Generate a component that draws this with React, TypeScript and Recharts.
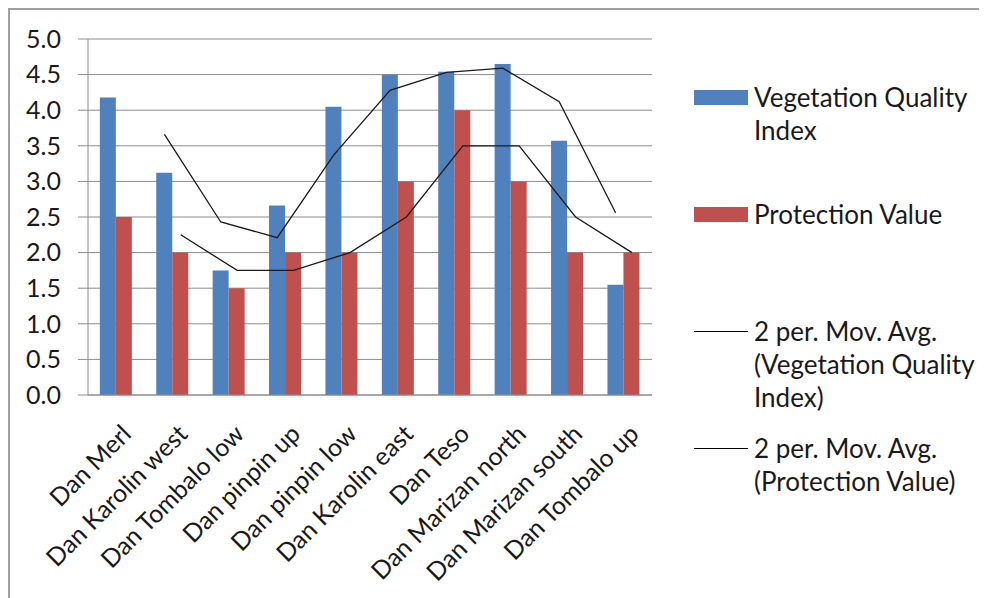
import React from 'react';
import { ComposedChart, Bar, Line, XAxis, YAxis, CartesianGrid, Legend } from 'recharts';

const categories = [
  'Dan Merl',
  'Dan Karolin west',
  'Dan Tombalo low',
  'Dan pinpin up',
  'Dan pinpin low',
  'Dan Karolin east',
  'Dan Teso',
  'Dan Marizan north',
  'Dan Marizan south',
  'Dan Tombalo up',
];
const vegetationQuality = [4.18, 3.12, 1.75, 2.66, 4.05, 4.5, 4.54, 4.65, 3.57, 1.55];
const protectionValue = [2.5, 2, 1.5, 2, 2, 3, 4, 3, 2, 2];
const vqiMovingAvg = [null, 3.66, 2.43, 2.21, 3.37, 4.28, 4.53, 4.59, 4.12, 2.56];
const pvMovingAvg = [null, 2.25, 1.75, 1.75, 2.0, 2.5, 3.5, 3.5, 2.5, 2.0];
const yTicks = [0, 0.5, 1, 1.5, 2, 2.5, 3, 3.5, 4, 4.5, 5];
const boundaryTicks = [0, 1, 2, 3, 4, 5, 6, 7, 8, 9, 10];

const seriesNames = {
  vqi: 'Vegetation Quality Index',
  pv: 'Protection Value',
  vqiMa: '2 per. Mov. Avg. (Vegetation Quality Index)',
  pvMa: '2 per. Mov. Avg. (Protection Value)',
};

const legendEntries = [
  { lines: ['Vegetation Quality', 'Index'], color: '#4F81BD', kind: 'rect' },
  { lines: ['Protection Value'], color: '#C0504D', kind: 'rect' },
  { lines: ['2 per. Mov. Avg.', '(Vegetation Quality', 'Index)'], color: '#000000', kind: 'line' },
  { lines: ['2 per. Mov. Avg.', '(Protection Value)'], color: '#000000', kind: 'line' },
];

const BAR_SHIFT = 0.145;

const data = categories.map((name, i) => ({
  name,
  vqi: vegetationQuality[i],
  pv: protectionValue[i],
  vqiMa: vqiMovingAvg[i],
  pvMa: pvMovingAvg[i],
  xv: i + 0.5 - BAR_SHIFT,
  xp: i + 0.5 + BAR_SHIFT,
}));

const FONT = 'Lato, "Open Sans", sans-serif';
const TEXT = '#1a1a1a';
const GRID = '#8c8c8c';

const LegendContent = () => (
  <div style={{ fontFamily: FONT, fontSize: 26, color: TEXT, position: 'relative', width: 290, height: 420 }}>
    {legendEntries.map((e, i) => (
      <div key={i} style={{ position: 'absolute', left: 0, top: i * 117, display: 'flex', alignItems: 'flex-start' }}>
        <div style={{ width: 54, height: 33, display: 'flex', alignItems: 'center' }}>
          {e.kind === 'rect' ? (
            <div style={{ width: 54, height: 15, background: e.color }} />
          ) : (
            <div style={{ width: 54, height: 1.5, background: e.color }} />
          )}
        </div>
        <div style={{ marginLeft: 6, lineHeight: '33px', whiteSpace: 'nowrap' }}>
          {e.lines.map((l, j) => (
            <div key={j}>{l}</div>
          ))}
        </div>
      </div>
    ))}
  </div>
);

export default function App() {
  return (
    <div style={{ width: 977, height: 588, borderTop: '2px solid #a0a0a0', borderLeft: '2px solid #a0a0a0', background: '#fff' }}>
      <ComposedChart
        width={977}
        height={588}
        data={data}
        margin={{ top: 29, right: 335, bottom: 0, left: 0 }}
        barCategoryGap="21%"
        barGap={0}
      >
        <CartesianGrid xAxisId="cat" horizontal vertical={false} stroke={GRID} strokeWidth={1} />
        <XAxis
          xAxisId="vq"
          dataKey="xv"
          type="number"
          domain={[0, 10]}
          ticks={boundaryTicks}
          tick={false}
          tickLine={{ stroke: GRID }}
          tickSize={6}
          axisLine={false}
          height={1}
          allowDataOverflow
        />
        <XAxis
          xAxisId="pv"
          dataKey="xp"
          type="number"
          domain={[0, 10]}
          hide
          allowDataOverflow
        />
        <XAxis
          xAxisId="cat"
          dataKey="name"
          type="category"
          interval={0}
          angle={-45}
          textAnchor="end"
          tickLine={false}
          axisLine={{ stroke: GRID }}
          tickMargin={22}
          height={202}
          tick={{ fontFamily: FONT, fontSize: 25, fill: TEXT, dx: 4 }}
        />
        <YAxis
          domain={[0, 5]}
          ticks={yTicks}
          width={78}
          tickFormatter={(v: number) => v.toFixed(1)}
          tick={{ fontFamily: FONT, fontSize: 25, fill: TEXT }}
          tickLine={{ stroke: GRID }}
          tickSize={10}
          tickMargin={17}
          axisLine={{ stroke: GRID }}
          interval={0}
        />
        <Bar xAxisId="cat" dataKey="vqi" name={seriesNames.vqi} fill="#4F81BD" isAnimationActive={false} />
        <Bar xAxisId="cat" dataKey="pv" name={seriesNames.pv} fill="#C0504D" isAnimationActive={false} />
        <Line
          xAxisId="vq"
          dataKey="vqiMa"
          name={seriesNames.vqiMa}
          stroke="#1a1a1a"
          strokeWidth={1.3}
          dot={false}
          activeDot={false}
          isAnimationActive={false}
        />
        <Line
          xAxisId="pv"
          dataKey="pvMa"
          name={seriesNames.pvMa}
          stroke="#1a1a1a"
          strokeWidth={1.3}
          dot={false}
          activeDot={false}
          isAnimationActive={false}
        />
        <Legend
          layout="horizontal"
          verticalAlign="middle"
          align="center"
          content={<LegendContent />}
          wrapperStyle={{ left: 684, top: 71, width: 290, height: 420 }}
        />
      </ComposedChart>
    </div>
  );
}
